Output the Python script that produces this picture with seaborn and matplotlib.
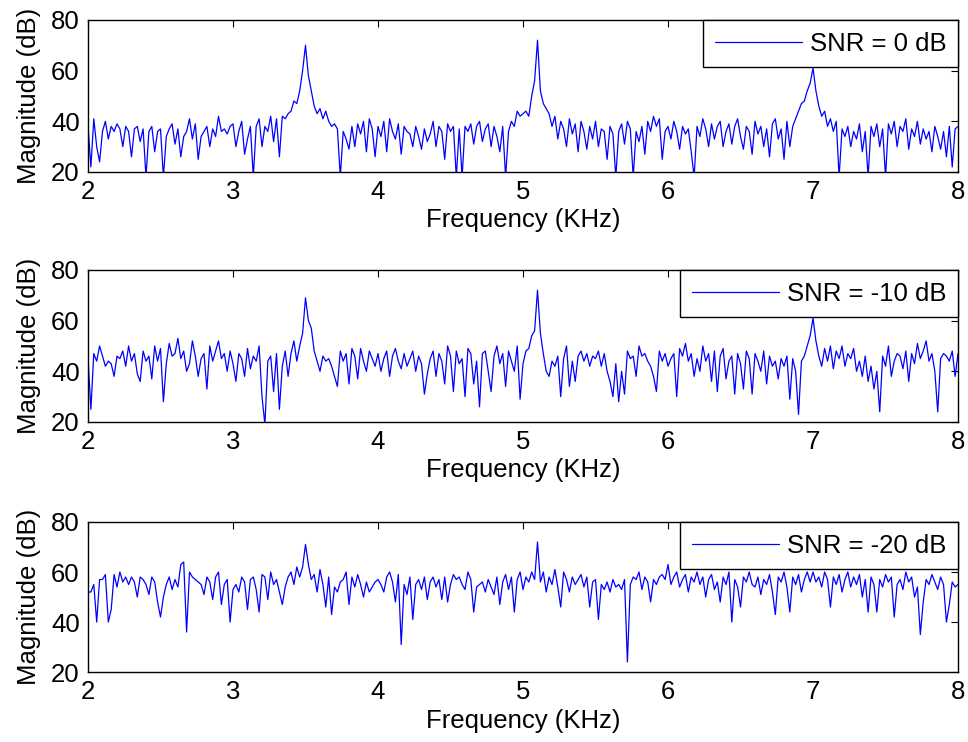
import numpy as np
import pandas as pd
import matplotlib
matplotlib.use("Agg")
import matplotlib.pyplot as plt
import seaborn as sns

# frequency grid (KHz), one sample every 0.02 KHz
freq = np.round(np.arange(0, 301) * 0.02 + 2.0, 3)

# magnitude (dB), 50 values per KHz
mag_0db = [
    38, 22, 41, 30, 24, 36, 40, 33, 38, 36, 39, 37, 30, 38, 36, 26, 37, 38, 32, 37,
    18, 36, 38, 28, 36, 37, 18, 34, 37, 39, 31, 37, 26, 34, 36, 41, 33, 39, 25, 34,
    36, 38, 30, 37, 34, 42, 36, 37, 35, 38,
    39, 30, 36, 40, 27, 33, 38, 18, 38, 41, 30, 38, 36, 42, 32, 41, 26, 42, 41, 43,
    44, 48, 47, 52, 60, 70, 58, 52, 46, 43, 45, 41, 44, 40, 38, 39, 37, 18, 36, 33,
    29, 38, 30, 39, 35, 40, 28, 41, 37, 26,
    38, 34, 40, 28, 41, 36, 33, 39, 27, 38, 36, 35, 30, 38, 34, 29, 37, 32, 35, 40,
    30, 38, 36, 25, 39, 36, 38, 18, 37, 18, 38, 36, 39, 31, 38, 40, 32, 37, 39, 30,
    38, 34, 28, 38, 18, 36, 40, 38, 44, 42,
    43, 44, 42, 50, 56, 72, 52, 47, 45, 43, 38, 42, 33, 40, 37, 30, 41, 35, 39, 28,
    40, 36, 29, 38, 33, 40, 30, 37, 36, 25, 38, 35, 18, 36, 39, 31, 40, 37, 18, 36,
    32, 38, 27, 40, 36, 42, 38, 41, 25, 36,
    38, 33, 40, 36, 29, 38, 35, 37, 28, 18, 38, 34, 41, 37, 30, 39, 33, 38, 40, 30,
    36, 39, 31, 38, 41, 34, 29, 38, 36, 27, 40, 35, 38, 30, 37, 26, 39, 41, 33, 37,
    25, 40, 30, 38, 41, 44, 47, 48, 52, 55,
    61, 52, 46, 42, 44, 38, 41, 36, 40, 18, 37, 34, 38, 30, 36, 33, 39, 28, 36, 18,
    38, 34, 39, 30, 37, 18, 39, 35, 40, 30, 38, 36, 41, 29, 37, 34, 40, 31, 37, 33,
    36, 28, 38, 34, 29, 36, 26, 38, 22, 37,
    38,
]

mag_m10db = [
    45, 25, 47, 44, 50, 46, 42, 44, 43, 38, 46, 45, 48, 42, 50, 44, 47, 39, 36, 48,
    44, 46, 37, 50, 44, 49, 28, 43, 51, 46, 47, 53, 45, 48, 40, 43, 52, 46, 38, 45,
    47, 33, 50, 44, 48, 52, 45, 47, 40, 48,
    43, 36, 47, 45, 38, 49, 41, 46, 44, 50, 30, 19, 44, 46, 32, 47, 25, 42, 48, 38,
    47, 52, 44, 50, 55, 69, 60, 57, 48, 44, 40, 46, 44, 45, 42, 38, 34, 48, 44, 47,
    35, 49, 46, 37, 49, 44, 40, 48, 45, 42,
    47, 40, 45, 48, 38, 46, 49, 44, 41, 47, 42, 45, 48, 40, 46, 43, 31, 39, 45, 48,
    38, 47, 44, 35, 50, 46, 32, 48, 43, 45, 30, 49, 47, 35, 44, 26, 47, 48, 40, 32,
    46, 50, 43, 47, 34, 48, 44, 40, 50, 29,
    43, 48, 49, 54, 56, 72, 55, 47, 40, 38, 44, 42, 46, 30, 45, 50, 34, 44, 36, 46,
    48, 44, 47, 42, 46, 45, 48, 42, 47, 40, 36, 30, 43, 28, 40, 31, 48, 45, 46, 38,
    50, 46, 47, 44, 42, 38, 32, 48, 44, 47,
    42, 45, 47, 30, 49, 46, 51, 44, 47, 38, 45, 40, 50, 44, 47, 36, 48, 32, 46, 49,
    37, 44, 46, 31, 47, 43, 33, 48, 45, 31, 47, 44, 40, 48, 35, 46, 42, 44, 37, 45,
    42, 46, 29, 45, 40, 23, 44, 46, 50, 54,
    61, 52, 46, 42, 49, 44, 50, 41, 48, 45, 50, 42, 47, 45, 49, 40, 44, 38, 46, 36,
    42, 33, 40, 24, 46, 42, 50, 38, 44, 47, 46, 41, 48, 36, 47, 43, 51, 45, 48, 52,
    44, 47, 40, 24, 45, 47, 46, 44, 48, 38,
    47,
]

mag_m20db = [
    52, 52, 55, 40, 57, 57, 59, 40, 45, 59, 54, 60, 56, 58, 55, 58, 56, 50, 58, 57,
    55, 51, 58, 56, 48, 42, 50, 55, 58, 53, 57, 54, 63, 64, 36, 60, 58, 57, 56, 55,
    51, 58, 56, 49, 58, 60, 47, 55, 57, 40,
    53, 55, 52, 58, 56, 45, 57, 58, 53, 44, 59, 58, 49, 60, 55, 57, 52, 47, 54, 58,
    60, 55, 62, 58, 62, 71, 63, 57, 59, 52, 61, 55, 46, 58, 43, 54, 52, 56, 57, 60,
    47, 58, 54, 59, 55, 50, 56, 52, 54, 56,
    57, 55, 52, 58, 60, 56, 48, 59, 31, 55, 51, 58, 41, 55, 57, 53, 58, 49, 56, 58,
    54, 57, 49, 58, 48, 55, 59, 57, 58, 55, 53, 60, 57, 44, 54, 55, 56, 52, 57, 54,
    51, 58, 47, 56, 59, 53, 58, 44, 57, 60,
    53, 58, 56, 60, 57, 72, 56, 60, 52, 58, 55, 61, 54, 46, 60, 57, 52, 58, 55, 57,
    59, 54, 58, 46, 56, 57, 41, 55, 53, 56, 52, 57, 54, 55, 53, 57, 24, 55, 58, 57,
    60, 53, 58, 56, 48, 57, 55, 58, 59, 57,
    63, 55, 58, 60, 54, 57, 59, 52, 58, 56, 60, 55, 58, 50, 57, 59, 53, 56, 48, 58,
    55, 60, 40, 57, 54, 46, 58, 56, 60, 55, 54, 58, 51, 57, 55, 59, 52, 43, 58, 56,
    60, 54, 44, 58, 55, 59, 52, 57, 60, 56,
    60, 56, 58, 54, 60, 57, 46, 58, 55, 59, 52, 57, 60, 54, 58, 55, 59, 50, 57, 44,
    58, 55, 44, 57, 54, 59, 56, 58, 42, 55, 57, 53, 60, 56, 58, 50, 54, 35, 48, 57,
    55, 59, 56, 53, 58, 55, 40, 47, 56, 54,
    55,
]

legend_labels = ["SNR = 0 dB", "SNR = -10 dB", "SNR = -20 dB"]
x_ticks = [2, 3, 4, 5, 6, 7, 8]
y_ticks = [20, 40, 60, 80]

sns.set_theme(style="white")
plt.rcParams['font.family'] = ['Liberation Sans', 'DejaVu Sans']
plt.rcParams['axes.edgecolor'] = 'black'
plt.rcParams['text.color'] = 'black'
plt.rcParams['axes.labelcolor'] = 'black'

FS = 18.5

fig = plt.figure(figsize=(9.68, 7.42), dpi=100)

# axes boxes in figure fractions (left, bottom, width, height)
boxes = [
    (0.0909, 0.7682, 0.8988, 0.2049),
    (0.0909, 0.4313, 0.8988, 0.2049),
    (0.0909, 0.0943, 0.8988, 0.2022),
]

series = [mag_0db, mag_m10db, mag_m20db]

for box, mag, lab in zip(boxes, series, legend_labels):
    ax = fig.add_axes(box)
    df = pd.DataFrame({"Frequency": freq, "Magnitude": mag})
    sns.lineplot(data=df, x="Frequency", y="Magnitude", ax=ax, color="blue",
                 linewidth=0.9, estimator=None, label=lab)
    ax.set_xlim(2, 8)
    ax.set_ylim(20, 80)
    ax.set_xticks(x_ticks)
    ax.set_yticks(y_ticks)
    ax.tick_params(direction="in", top=True, right=True, length=5, width=0.8,
                   labelsize=FS, colors="black", pad=6)
    for sp in ax.spines.values():
        sp.set_color("black")
        sp.set_linewidth(1.0)
    ax.set_xlabel("Frequency (KHz)", fontsize=FS, labelpad=3)
    ax.set_ylabel("Magnitude (dB)", fontsize=FS, labelpad=7)
    leg = ax.legend(loc="upper right", borderaxespad=0, fancybox=False,
                    framealpha=1, edgecolor="black", fontsize=FS,
                    handlelength=3.4, borderpad=0.45, handletextpad=0.3)
    leg.get_frame().set_linewidth(1.0)

fig.savefig("out.png", dpi=100)
